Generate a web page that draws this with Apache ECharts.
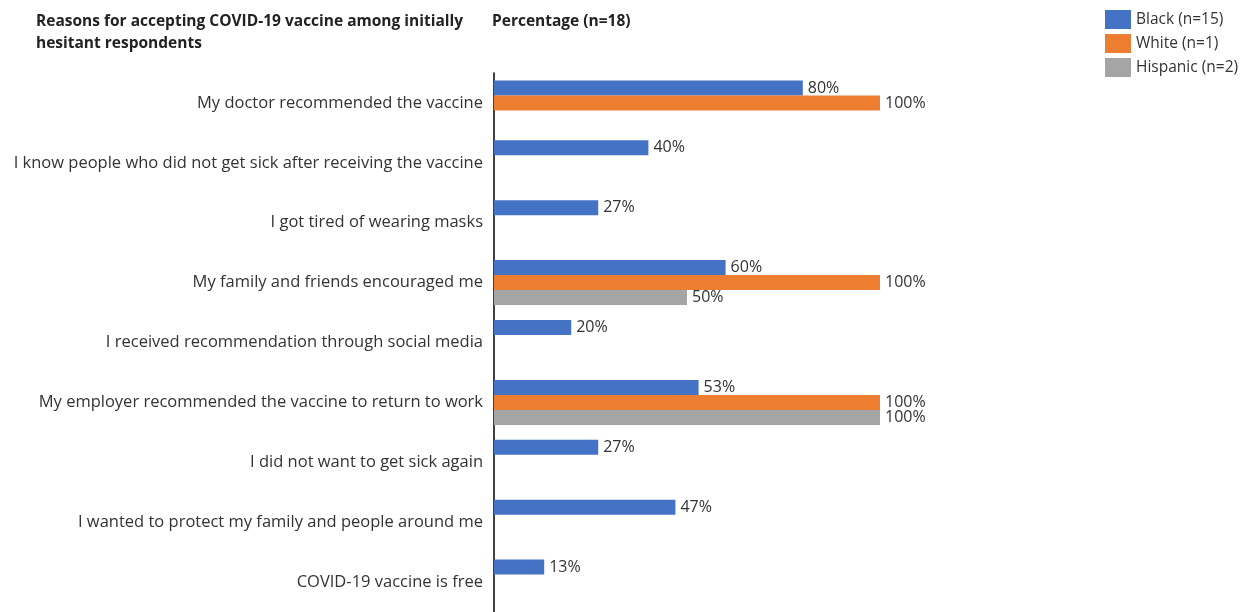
<!DOCTYPE html>
<html>
<head>
<meta charset="utf-8">
<script src="https://cdn.jsdelivr.net/npm/echarts@6/dist/echarts.min.js"></script>
<style>
  html, body { margin: 0; padding: 0; background: #fff; }
  #chart { width: 1243px; height: 612px; }
</style>
</head>
<body>
<div id="chart"></div>
<script>
// Reasons given by initially hesitant respondents, top to bottom
const categories = [
  'My doctor recommended the vaccine',
  'I know people who did not get sick after receiving the vaccine',
  'I got tired of wearing masks',
  'My family and friends encouraged me',
  'I received recommendation through social media',
  'My employer recommended the vaccine to return to work',
  'I did not want to get sick again',
  'I wanted to protect my family and people around me',
  'COVID-19 vaccine is free'
];

// Percentages per group (null = no respondents chose it)
const blackValues    = [80, 40, 27, 60, 20, 53, 27, 47, 13];
const whiteValues    = [100, null, null, 100, null, 100, null, null, null];
const hispanicValues = [null, null, null, 50, null, 100, null, null, null];

const seriesNames = ['Black (n=15)', 'White (n=1)', 'Hispanic (n=2)'];
const seriesColors = ['#4472C4', '#ED7D31', '#A5A5A5'];

const FONT = 'Open Sans';

const chart = echarts.init(document.getElementById('chart'));

const makeSeries = (name, data, color) => ({
  name: name,
  type: 'bar',
  data: data,
  barWidth: 15,
  barGap: '0%',
  itemStyle: { color: color },
  label: {
    show: true,
    position: 'right',
    distance: 5,
    formatter: p => (p.value == null ? '' : p.value + '%'),
    color: '#333',
    fontFamily: FONT,
    fontSize: 16
  }
});

chart.setOption({
  animation: false,
  textStyle: { fontFamily: FONT },
  title: [
    {
      text: 'Reasons for accepting COVID-19 vaccine among initially\nhesitant respondents',
      left: 31, top: 6,
      textStyle: { fontFamily: FONT, fontSize: 15.5, fontWeight: 'bold', color: '#222', lineHeight: 22 }
    },
    {
      text: 'Percentage (n=18)',
      left: 487, top: 6,
      textStyle: { fontFamily: FONT, fontSize: 15.5, fontWeight: 'bold', color: '#222', lineHeight: 22 }
    }
  ],
  legend: {
    orient: 'vertical',
    left: 1100, top: 5,
    itemWidth: 26, itemHeight: 19,
    itemGap: 5,
    icon: 'rect',
    textStyle: { fontFamily: FONT, fontSize: 15.5, color: '#333' },
    data: seriesNames
  },
  grid: { left: 494, top: 73, width: 386, height: 542 },
  xAxis: {
    type: 'value', min: 0, max: 100,
    show: false
  },
  yAxis: {
    type: 'category',
    inverse: true,
    data: categories,
    axisLine: { show: true, lineStyle: { color: '#000', width: 1.5 } },
    axisTick: { show: false },
    axisLabel: { margin: 11, fontFamily: FONT, fontSize: 16.5, color: '#333' }
  },
  series: [
    makeSeries(seriesNames[0], blackValues, seriesColors[0]),
    makeSeries(seriesNames[1], whiteValues, seriesColors[1]),
    makeSeries(seriesNames[2], hispanicValues, seriesColors[2])
  ]
});
</script>
</body>
</html>
